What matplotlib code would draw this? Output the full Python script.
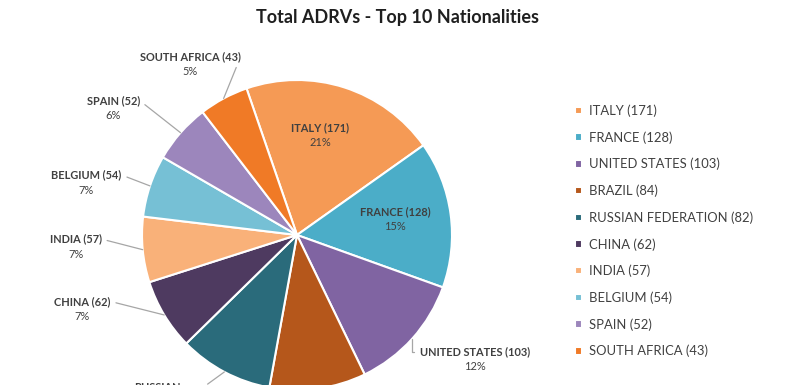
import numpy as np
import matplotlib
matplotlib.use("Agg")
import matplotlib.pyplot as plt

# data
countries = ["ITALY", "FRANCE", "UNITED STATES", "BRAZIL", "RUSSIAN FEDERATION",
             "CHINA", "INDIA", "BELGIUM", "SPAIN", "SOUTH AFRICA"]
counts = [171, 128, 103, 84, 82, 62, 57, 54, 52, 43]
pct_text = ["21%", "15%", "12%", "10%", "10%", "7%", "7%", "7%", "6%", "5%"]
colors = ["#F59A55", "#4BADC8", "#8064A2", "#B5571B", "#2A6B7B",
          "#4E3A60", "#F9B179", "#76C0D5", "#9C86BC", "#F07A26"]

# layout (pixel space, y measured upward)
W, H = 795, 385
CX, CY, R = 297, 150, 155
START = -19.0  # first wedge starts this many degrees clockwise from 12 o'clock
# label placement: (clockwise angle from top, distance as multiple of R)
label_polar = {
    "ITALY": (13, 0.66),
    "FRANCE": (81, 0.64),
    "UNITED STATES": (125, 1.40),
    "BRAZIL": (172, 1.45),
    "RUSSIAN FEDERATION": (220, 1.40),
    "CHINA": (251, 1.465),
    "INDIA": (267, 1.43),
    "BELGIUM": (284, 1.40),
    "SPAIN": (304.6, 1.44),
    "SOUTH AFRICA": (328, 1.30),
}
TXT = "#404040"
LINE = "#A6A6A6"
FS = 7.9

plt.rcParams["font.family"] = ["Lato", "DejaVu Sans"]

fig = plt.figure(figsize=(W / 100, H / 100), dpi=100)
ax = fig.add_axes([0, 0, 1, 1])
wedges, _ = ax.pie(counts, colors=colors, center=(CX, CY), radius=R,
                   startangle=90 - START, counterclock=False,
                   wedgeprops=dict(edgecolor="white", linewidth=1.5))
ax.set_xlim(0, W)
ax.set_ylim(0, H)
ax.set_aspect("equal")
ax.axis("off")


def polar(angle_cw, factor):
    a = np.deg2rad(angle_cw)
    return CX + factor * R * np.sin(a), CY + factor * R * np.cos(a)


total = float(sum(counts))
bounds = START + 360.0 * np.concatenate([[0], np.cumsum(counts)]) / total
mids = (bounds[:-1] + bounds[1:]) / 2

for name, n, pct, mid in zip(countries, counts, pct_text, mids):
    ang, fac = label_polar[name]
    x, y = polar(ang, fac)
    head = f"{name} ({n})"
    if name == "RUSSIAN FEDERATION":
        head = f"RUSSIAN\nFEDERATION ({n})"
    if fac < 1:
        ax.text(x, y + 7.5, head, ha="center", va="center", fontsize=FS,
                fontweight="bold", color=TXT)
        ax.text(x, y - 7.5, pct, ha="center", va="center", fontsize=FS, color=TXT)
        continue
    ex, ey = polar(mid, 1.0)
    if ang < 180:
        rel, conn = (0.0, 0.5), "angle,angleA=0,angleB=90,rad=0"
    else:
        rel, conn = (1.0, 0.5), "arc3,rad=0"
    if "\n" in head:
        rel = (1.0, 0.75)
    ax.annotate(head, xy=(ex, ey), xytext=(x, y + 7.5), ha="center", va="center",
                fontsize=FS, fontweight="bold", color=TXT,
                arrowprops=dict(arrowstyle="-", color=LINE, lw=0.9,
                                shrinkA=2, shrinkB=0, relpos=rel,
                                connectionstyle=conn))
    dy = 22 if "\n" in head else 7.5
    ax.text(x, y - dy, pct, ha="center", va="center", fontsize=FS, color=TXT)

ax.text(W / 2 + 0.5, H - 18, "Total ADRVs - Top 10 Nationalities", ha="center",
        va="center", fontsize=13, fontweight="bold", color="#1F1F1F")

legend_labels = [f"{c} ({n})" for c, n in zip(countries, counts)]
fig.legend(wedges, legend_labels, loc="upper left",
           bbox_to_anchor=(575 / W, 1 - 104.5 / H), frameon=False,
           fontsize=9.4, labelcolor=TXT, handlelength=0.5, handleheight=0.5,
           handletextpad=0.55, labelspacing=1.085, borderpad=0, borderaxespad=0)

fig.savefig("out.png", dpi=100)
